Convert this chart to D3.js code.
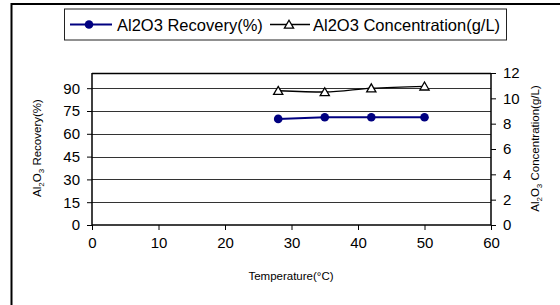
<!DOCTYPE html>
<html><head><meta charset="utf-8">
<script src="https://cdn.jsdelivr.net/npm/d3@7"></script>
<style>body{margin:0;background:#fff;font-family:"Liberation Sans",Arial,sans-serif;}</style>
</head><body><svg id="c" width="560" height="305"></svg>
<script>
const temperature = [28, 35, 42, 50];
const recovery = [69.8, 70.9, 70.9, 70.9];
const concentration = [10.6, 10.5, 10.8, 10.95];
const xTicks = [0, 10, 20, 30, 40, 50, 60];
const yLeftTicks = [0, 15, 30, 45, 60, 75, 90];
const yRightTicks = [0, 2, 4, 6, 8, 10, 12];
const seriesNames = ["Al2O3 Recovery(%)", "Al2O3 Concentration(g/L)"];

const svg = d3.select("#c");
const FF = "Liberation Sans, Arial, sans-serif";
const L = 92, R = 491, T = 73, B = 225;
const x = d3.scaleLinear().domain([0, 60]).range([L, R]);
const yl = d3.scaleLinear().domain([0, 100]).range([B, T]);
const yr = d3.scaleLinear().domain([0, 12]).range([B, T]);

// outer border
svg.append("rect").attr("x", 11.5).attr("y", 4).attr("width", 560).attr("height", 320)
  .attr("fill", "none").attr("stroke", "#000").attr("stroke-width", 2);

// gridlines
svg.append("g").selectAll("line").data(yLeftTicks.filter(d => d > 0)).join("line")
  .attr("x1", L).attr("x2", R).attr("y1", d => Math.round(yl(d)) + 0.5).attr("y2", d => Math.round(yl(d)) + 0.5)
  .attr("stroke", "#333").attr("stroke-width", 1.2);
svg.append("line").attr("x1", L).attr("x2", R).attr("y1", T + 0.5).attr("y2", T + 0.5).attr("stroke", "#000").attr("stroke-width", 1.5);

const fs = "15px";
const gx = svg.append("g").attr("transform", `translate(0,${B})`)
  .call(d3.axisBottom(x).tickValues(xTicks).tickSize(5).tickPadding(7).tickFormat(d3.format("d")));
const gl = svg.append("g").attr("transform", `translate(${L},0)`)
  .call(d3.axisLeft(yl).tickValues(yLeftTicks).tickSize(5).tickPadding(7).tickFormat(d3.format("d")));
const gr = svg.append("g").attr("transform", `translate(${R},0)`)
  .call(d3.axisRight(yr).tickValues(yRightTicks).tickSize(5).tickPadding(7).tickFormat(d3.format("d")));
[gx, gl, gr].forEach(g => {
  g.selectAll("text").attr("font-size", fs).attr("font-family", FF).attr("fill", "#000");
  g.selectAll("line").attr("stroke", "#000");
  g.select(".domain").attr("stroke", "#000").attr("stroke-width", 1.5);
});
gx.select(".domain").attr("d", `M${L},0H${R}`);
gl.select(".domain").attr("d", `M0,${B}V${T}`);
gr.select(".domain").attr("d", `M0,${B}V${T}`);

// axis titles
function chemTitle(sel, rest) {
  sel.append("tspan").text("Al");
  sel.append("tspan").text("2").attr("font-size", "8px").attr("dy", 2.5);
  sel.append("tspan").text("O").attr("dy", -2.5);
  sel.append("tspan").text("3").attr("font-size", "8px").attr("dy", 2.5);
  sel.append("tspan").text(rest).attr("dy", -2.5);
}
svg.append("clipPath").attr("id", "lclip").append("rect")
  .attr("x", 0).attr("y", 98).attr("width", 80).attr("height", 200);
const t1 = svg.append("g").attr("clip-path", "url(#lclip)").append("text")
  .attr("transform", `translate(41,148) rotate(-90)`)
  .attr("text-anchor", "middle").attr("font-size", "11.5px").attr("font-family", FF).attr("fill", "#000");
chemTitle(t1, " Recovery(%)");

const t2 = svg.append("text").attr("transform", `translate(539,148.5) rotate(-90)`)
  .attr("text-anchor", "middle").attr("font-size", "11.5px").attr("font-family", FF).attr("fill", "#000");
chemTitle(t2, " Concentration(g/L)");

svg.append("text").attr("x", 291).attr("y", 280).attr("text-anchor", "middle")
  .attr("font-size", "11.5px").attr("font-family", FF).attr("fill", "#000").text("Temperature(°C)");

// series
const navy = "#000080";
const rec = temperature.map((t, i) => [t, recovery[i]]);
const con = temperature.map((t, i) => [t, concentration[i]]);
svg.append("path").datum(rec).attr("fill", "none").attr("stroke", navy).attr("stroke-width", 2)
  .attr("d", d3.line().x(d => x(d[0])).y(d => yl(d[1])));
svg.append("path").datum(con).attr("fill", "none").attr("stroke", "#000").attr("stroke-width", 1.3)
  .attr("d", d3.line().curve(d3.curveMonotoneX).x(d => x(d[0])).y(d => yr(d[1])));
svg.append("g").selectAll("circle").data(rec).join("circle")
  .attr("cx", d => x(d[0])).attr("cy", d => yl(d[1])).attr("r", 4.3).attr("fill", navy);
const triPath = "M0,-4.3L4.6,3.7L-4.6,3.7Z";
svg.append("g").selectAll("path").data(con).join("path")
  .attr("transform", d => `translate(${x(d[0])},${yr(d[1])})`).attr("d", triPath)
  .attr("fill", "#fff").attr("stroke", "#000").attr("stroke-width", 1.3);

// legend
svg.append("rect").attr("x", 64.5).attr("y", 9).attr("width", 442).attr("height", 31)
  .attr("fill", "#fff").attr("stroke", "#222").attr("stroke-width", 1);
svg.append("line").attr("x1", 70).attr("x2", 112).attr("y1", 24.5).attr("y2", 24.5).attr("stroke", navy).attr("stroke-width", 2);
svg.append("circle").attr("cx", 89).attr("cy", 24.5).attr("r", 4.3).attr("fill", navy);
svg.append("text").attr("x", 117).attr("y", 30.5).attr("font-size", "16.5px").attr("font-family", FF).attr("fill", "#000").text(seriesNames[0]);
svg.append("line").attr("x1", 270).attr("x2", 310).attr("y1", 24.5).attr("y2", 24.5).attr("stroke", "#000").attr("stroke-width", 1.3);
svg.append("path").attr("transform", "translate(289,24.5)").attr("d", triPath)
  .attr("fill", "#fff").attr("stroke", "#000").attr("stroke-width", 1.3);
svg.append("text").attr("x", 313).attr("y", 30.5).attr("font-size", "16.5px").attr("font-family", FF).attr("fill", "#000").text(seriesNames[1]);
</script></body></html>
